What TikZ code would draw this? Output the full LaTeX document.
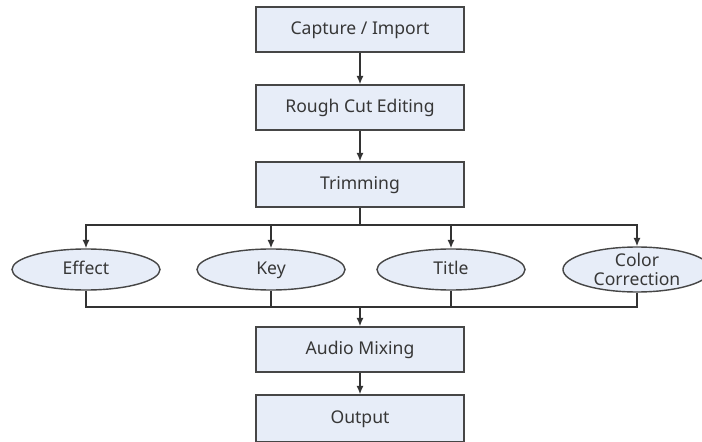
\documentclass[tikz,border=0pt]{standalone}
\usepackage{fontspec}
\setmainfont{Noto Sans}
\usetikzlibrary{%
  arrows.meta,%
  shapes,%
  positioning,% wg. " of "
  calc
}
\definecolor{boxfill}{RGB}{231,237,248}
\definecolor{boxline}{RGB}{70,70,70}
\definecolor{txt}{RGB}{55,55,55}

\begin{document}
\begin{tikzpicture}
[x=0.025cm, y=0.025cm, draw=boxline, line width=1pt, >={Latex[length=6pt,width=5pt]},
step0/.style={rectangle, draw=boxline, fill=boxfill, text=txt, inner sep=0pt, minimum width=5.2cm, minimum height=1.125cm, text height=1.75ex, text depth=.5ex, font=\fontsize{12.5}{13}\selectfont},
task0/.style={ellipse, draw=boxline, fill=boxfill, text=txt, inner sep=0pt, minimum width=3.7cm, minimum height=1.025cm, align=center, font=\fontsize{12.5}{13}\selectfont},
oneline/.style={text height=1.75ex, text depth=.5ex},
wire/.style={draw=black!80, line width=1pt}]

\clip (0,0) rectangle (702,441);

\node[step0] (capture) at (360,411.5) {Capture / Import};
\node[step0] (rough) at (360,333.5) {Rough Cut Editing};
\node[step0] (trim) at (360,256.5) {Trimming};

\node[task0,oneline] (effect) at (86,171.5) {Effect};
\node[task0,oneline] (key) at (271,171.5) {Key};
\node[task0,oneline] (title) at (451,171.5) {Title};
\node[task0] (color) at (637,171.5) {Color\\Correction};

\node[step0] (audio) at (360,91.5) {Audio Mixing};
\node[step0, minimum height=1.175cm] (output) at (360,22.5) {Output};

\coordinate (split) at (360,216);
\coordinate (join) at (360,134);

\draw[wire,->] (capture) -- (rough);
\draw[wire,->] (rough) -- (trim);

\draw[wire] (trim) -- (split);
\draw[wire,->] (split) -| (effect);
\draw[wire,->] (split) -| (key);
\draw[wire,->] (split) -| (title);
\draw[wire,->] (split) -| (color);

\draw[wire] (effect) |- (join);
\draw[wire] (key) |- (join);
\draw[wire] (title) |- (join);
\draw[wire] (color) |- (join);
\draw[wire,->] (join) -- (audio);

\draw[wire,->] (audio) -- (output);

\end{tikzpicture}
\end{document}
